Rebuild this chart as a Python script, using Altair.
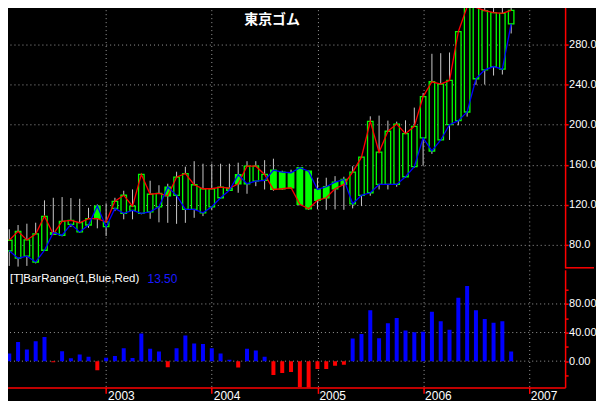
import altair as alt
import pandas as pd

# ---- data (monthly bars, Feb 2002 .. Nov 2006) ----
months = [str(p) for p in pd.period_range("2002-02", periods=58, freq="M")]
opens = [74.0, 66.7, 68.7, 62.9, 74.6, 92.2, 89.6, 100.5, 92.9, 99.8, 118.7,
         98.1, 116.4, 111.5, 114.4, 111.5, 113.0, 118.0, 137.6, 129.4, 115.4, 115.4, 112.0,
         118.0, 127.0, 134.5, 150.0, 141.0, 143.6, 144.3, 154.5, 152.6, 152.0, 157.0, 153.5,
         135.3, 138.0, 142.6, 145.3, 121.0, 129.4, 132.0, 140.3, 140.3, 140.3, 148.0, 158.0,
         186.7, 173.7, 184.7, 200.0, 204.0, 212.6, 245.8, 254.7, 258.0, 255.4, 300.6]
highs = [95.5, 99.8, 101.1, 102.1, 124.4, 127.0, 127.7, 126.7, 126.0, 117.0, 120.4,
         121.4, 127.0, 134.0, 135.3, 151.0, 144.0, 139.5, 141.0, 153.0, 158.0, 163.5, 161.0,
         161.0, 161.0, 161.0, 162.0, 163.5, 163.5, 164.5, 166.0, 154.0, 155.0, 157.5, 154.0,
         147.0, 147.0, 148.6, 148.0, 158.5, 168.0, 208.3, 209.0, 204.0, 203.0, 204.3, 217.0,
         231.5, 270.7, 271.3, 272.0, 293.0, 320.0, 319.0, 318.7, 318.7, 318.7, 319.5]
lows = [59.0, 58.3, 59.0, 61.5, 74.0, 90.0, 88.5, 97.8, 92.0, 97.0, 96.5,
        88.9, 113.7, 105.5, 105.5, 110.5, 106.0, 102.5, 102.0, 101.0, 102.0, 107.0, 108.7,
        115.0, 126.0, 134.0, 132.0, 131.0, 138.6, 135.3, 134.0, 135.0, 136.0, 119.5, 115.0,
        115.4, 115.0, 115.4, 115.0, 116.4, 118.7, 129.0, 135.3, 135.3, 138.0, 147.0, 157.0,
        159.0, 170.8, 184.0, 184.7, 199.3, 208.0, 239.8, 240.0, 249.0, 250.0, 291.0]
closes = [84.6, 93.5, 84.9, 90.9, 108.5, 90.6, 103.5, 104.5, 102.1, 106.1, 106.1,
          102.8, 123.5, 129.5, 118.7, 150.3, 130.5, 131.4, 129.0, 147.6, 151.2, 140.0, 136.0,
          136.0, 137.6, 136.5, 141.0, 158.5, 158.5, 150.3, 135.3, 136.0, 137.0, 120.4, 116.0,
          124.4, 127.0, 136.0, 140.3, 152.6, 167.5, 203.3, 172.5, 193.4, 200.6, 191.0, 198.3,
          228.0, 242.8, 240.4, 244.1, 292.8, 317.7, 317.0, 313.7, 311.8, 311.1, 314.1]

year_ticks = [11, 23, 35, 47, 59]          # bar index of each January
year_labels = ["2003", "2004", "2005", "2006", "2007"]
price_ticks = [80, 120, 160, 200, 240, 280, 320]
range_ticks = [-20, 0, 20, 40, 60, 80, 100]
range_grid = [0, 40, 80]

df = pd.DataFrame({"i": list(range(len(months))), "month": months,
                   "open": opens, "high": highs, "low": lows, "close": closes})
df["body_lo"] = df[["open", "close"]].min(axis=1)
df["body_hi"] = df[["open", "close"]].max(axis=1)
df["range"] = (df["close"] - df["open"]).round(2)
last_range = f"{df['range'].iloc[-1]:.2f}"

GRID = "#9a9a9a"
FONT = "Liberation Sans"
W = 566

xs = alt.Scale(domain=[-0.37, 62.56], nice=False, zero=False)
ys_up = alt.Scale(domain=[57.1, 322.7], nice=False, zero=False)
ys_lo = alt.Scale(domain=[-36.7, 127.8], nice=False, zero=False)

label_expr = "{" + ",".join(f"'{v}':'{l}'" for v, l in zip(year_ticks, year_labels)) + "}[datum.value]"

x_up = alt.X("i:Q", scale=xs, title=None,
             axis=alt.Axis(values=year_ticks, labels=False, ticks=False, domain=False,
                           grid=True, gridColor=GRID, gridDash=[1, 3], gridWidth=1))
x_lo = alt.X("i:Q", scale=xs, title=None,
             axis=alt.Axis(values=year_ticks, labelExpr=label_expr, grid=True, gridColor=GRID,
                           gridDash=[1, 3], gridWidth=1, domainColor="#ff0000", domainWidth=1.5,
                           tickColor="#ff0000", tickSize=6, tickWidth=1.5, labelColor="white",
                           labelFont=FONT, labelFontSize=12, labelAlign="left", labelOffset=1.5,
                           labelPadding=-3, labelBaseline="top", labelFlush=False,
                           labelOverlap=False))

ax_up = alt.Axis(orient="right", values=price_ticks, format=".1f", grid=True, gridColor=GRID,
                 gridDash=[1, 3], gridWidth=1, domainColor="#ff0000", domainWidth=1.5,
                 tickColor="#ff0000", tickSize=3, tickWidth=1.5, labelColor="white",
                 labelFont=FONT, labelFontSize=11, labelPadding=0.5, labelOverlap=False)
ax_lo = alt.Axis(orient="right", values=range_ticks, grid=False, domainColor="#ff0000",
                 domainWidth=1.5, tickColor="#ff0000", tickSize=3, tickWidth=1.5,
                 labelExpr="datum.value % 40 == 0 ? format(datum.value, '.2f') : ''",
                 labelColor="white", labelFont=FONT, labelFontSize=11, labelPadding=0.5,
                 labelOverlap=False)

base_up = alt.Chart(df).encode(x=x_up)

wicks = base_up.mark_rule(color="#c8c8c8", strokeWidth=1).encode(
    y=alt.Y("low:Q", scale=ys_up, axis=ax_up, title=None), y2="high:Q")
bodies = base_up.mark_bar(size=5.5, stroke="#00ff00", strokeWidth=1.3).encode(
    y=alt.Y("body_lo:Q", scale=ys_up, axis=ax_up, title=None), y2="body_hi:Q",
    fill=alt.condition("datum.close < datum.open", alt.value("#00ff00"), alt.value("#000000")))
close_line = base_up.mark_line(color="#ff0000", strokeWidth=1.3).encode(
    y=alt.Y("close:Q", scale=ys_up, axis=ax_up, title=None))
open_line = base_up.mark_line(color="#0000ff", strokeWidth=1.3).encode(
    y=alt.Y("open:Q", scale=ys_up, axis=ax_up, title=None))

one = pd.DataFrame({"k": [0]})
title = alt.Chart(one).mark_text(color="white", fontSize=14, fontWeight="bold",
                                 font="Noto Sans CJK JP", align="center", baseline="middle").encode(
    x=alt.value(272), y=alt.value(18), text=alt.value("東京ゴム"))
sep = alt.Chart(one).mark_rule(color="#ff0000", strokeWidth=1.5, clip=False).encode(
    x=alt.value(W), x2=alt.value(595), y=alt.value(267))

upper = alt.layer(wicks, bodies, close_line, open_line, title, sep).properties(width=W, height=267)

grid_df = pd.DataFrame({"v": range_grid})
hgrid = alt.Chart(grid_df).mark_rule(color=GRID, strokeDash=[1, 3], strokeWidth=1).encode(
    y=alt.Y("v:Q", scale=ys_lo, axis=ax_lo, title=None))
bars = alt.Chart(df).mark_bar(size=4, clip=True).encode(
    x=x_lo,
    y=alt.Y("range:Q", scale=ys_lo, axis=ax_lo, title=None), y2=alt.datum(0),
    color=alt.condition("datum.range >= 0", alt.value("#0000ff"), alt.value("#ff0000")))
ind_label = alt.Chart(one).mark_text(color="white", fontSize=11.5, font=FONT, align="left",
                                     baseline="middle").encode(
    x=alt.value(9), y=alt.value(9), text=alt.value("[T]BarRange(1,Blue,Red)"))
ind_value = alt.Chart(one).mark_text(color="#1a1aff", fontSize=12, font=FONT, align="left",
                                     baseline="middle").encode(
    x=alt.value(147), y=alt.value(9), text=alt.value(last_range))

lower = alt.layer(hgrid, bars, ind_label, ind_value).properties(width=W, height=118)

chart = alt.vconcat(upper, lower, spacing=-3).properties(
    background="#000000",
    padding={"left": -8, "top": -11, "right": -1, "bottom": 6},
).configure_view(stroke="transparent")

chart.save("out.html", embed_options={"renderer": "svg", "actions": False})
